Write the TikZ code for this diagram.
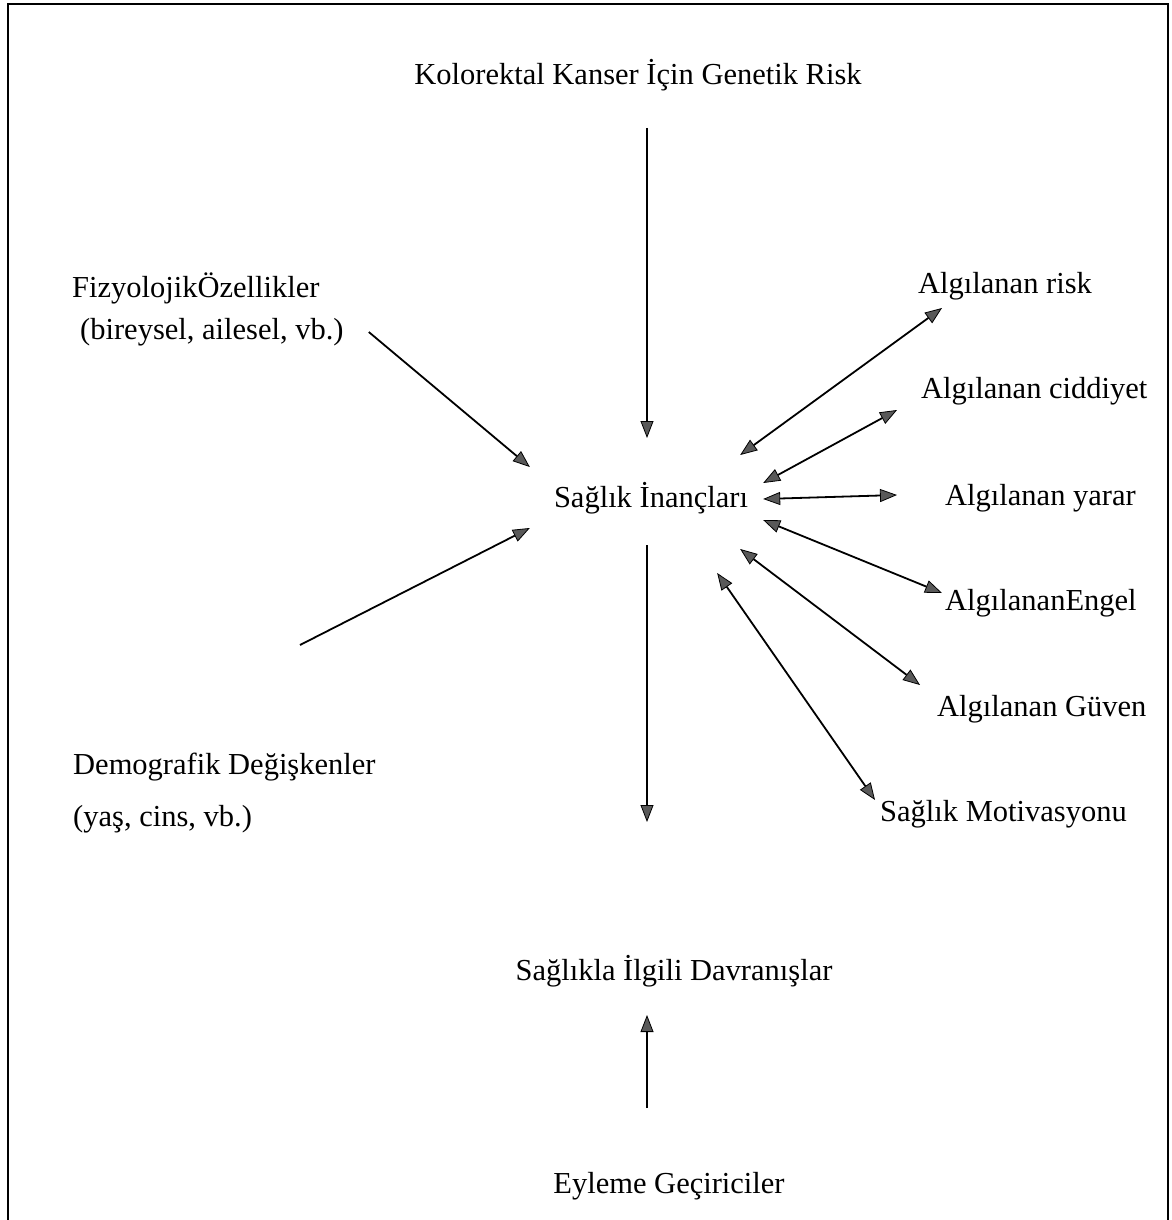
\documentclass[tikz,border=0pt]{standalone}
\usepackage{fontspec}
\setmainfont{Liberation Serif}
\usepackage{tikz}
\usetikzlibrary{arrows.meta}

\tikzset{
  lbl/.style={inner sep=0pt, font=\fontsize{30.5}{36}\selectfont},
  arr/.style={line width=1.8pt, -{Triangle[length=17pt,width=13pt,fill=black!65,line width=0.8pt]}},
  biarr/.style={line width=1.8pt, {Triangle[length=17pt,width=13pt,fill=black!65,line width=0.8pt]}-{Triangle[length=17pt,width=13pt,fill=black!65,line width=0.8pt]}}
}

\begin{document}
\begin{tikzpicture}[x=1pt,y=-1pt]
  \useasboundingbox (0,0) rectangle (1171,1220);
  % frame, open at the bottom
  \draw[line width=1.5pt] (8,1220) -- (8,4) -- (1168,4) -- (1168,1220);

  % left and middle column
  \node[lbl, anchor=base] (gen) at (638,85) {Kolorektal Kanser İçin Genetik Risk};
  \node[lbl, anchor=base west] (fiz1) at (72,297) {FizyolojikÖzellikler};
  \node[lbl, anchor=base west] (fiz2) at (80,339) {(bireysel, ailesel, vb.)};
  \node[lbl, anchor=base west] (dem1) at (73,774) {Demografik Değişkenler};
  \node[lbl, anchor=base west] (dem2) at (73,826) {(yaş, cins, vb.)};
  \node[lbl, anchor=base] (ins) at (651,507) {Sağlık İnançları};
  \node[lbl, anchor=base] (davr) at (674,980) {Sağlıkla İlgili Davranışlar};
  \node[lbl, anchor=base] (eyl) at (669,1193) {Eyleme Geçiriciler};

  % right column
  \node[lbl, anchor=base west] (risk) at (918,293) {Algılanan risk};
  \node[lbl, anchor=base west] (cidd) at (921,398) {Algılanan ciddiyet};
  \node[lbl, anchor=base west] (yarar) at (945,505) {Algılanan yarar};
  \node[lbl, anchor=base west] (engel) at (945,610) {AlgılananEngel};
  \node[lbl, anchor=base west] (guven) at (937,716) {Algılanan Güven};
  \node[lbl, anchor=base west] (motiv) at (880,821) {Sağlık Motivasyonu};

  % one-way arrows
  \draw[arr] ([shift={(9,43)}]gen.base) -- ([shift={(-4,-69)}]ins.base);
  \draw[arr] ([shift={(25,-7)}]fiz2.base east) -- ([shift={(-24,-40)}]ins.base west);
  \draw[arr] ([shift={(227,-129)}]dem1.base west) -- ([shift={(-24,21)}]ins.base west);
  \draw[arr] ([shift={(-4,38)}]ins.base) -- ([shift={(-27,-158)}]davr.base);
  \draw[arr] ([shift={(-22,-85)}]eyl.base) -- ([shift={(-27,35)}]davr.base);

  % two-way arrows
  \draw[biarr] ([shift={(-8,-52)}]ins.base east) -- ([shift={(24,15)}]risk.base west);
  \draw[biarr] ([shift={(15,-24)}]ins.base east) -- ([shift={(-24,12)}]cidd.base west);
  \draw[biarr] ([shift={(15,-8)}]ins.base east) -- ([shift={(-48,-10)}]yarar.base west);
  \draw[biarr] ([shift={(15,13)}]ins.base east) -- ([shift={(-3,-17)}]engel.base west);
  \draw[biarr] ([shift={(-8,42)}]ins.base east) -- ([shift={(-17,-31)}]guven.base west);
  \draw[biarr] ([shift={(-31,66)}]ins.base east) -- ([shift={(-5,-21)}]motiv.base west);
\end{tikzpicture}
\end{document}
